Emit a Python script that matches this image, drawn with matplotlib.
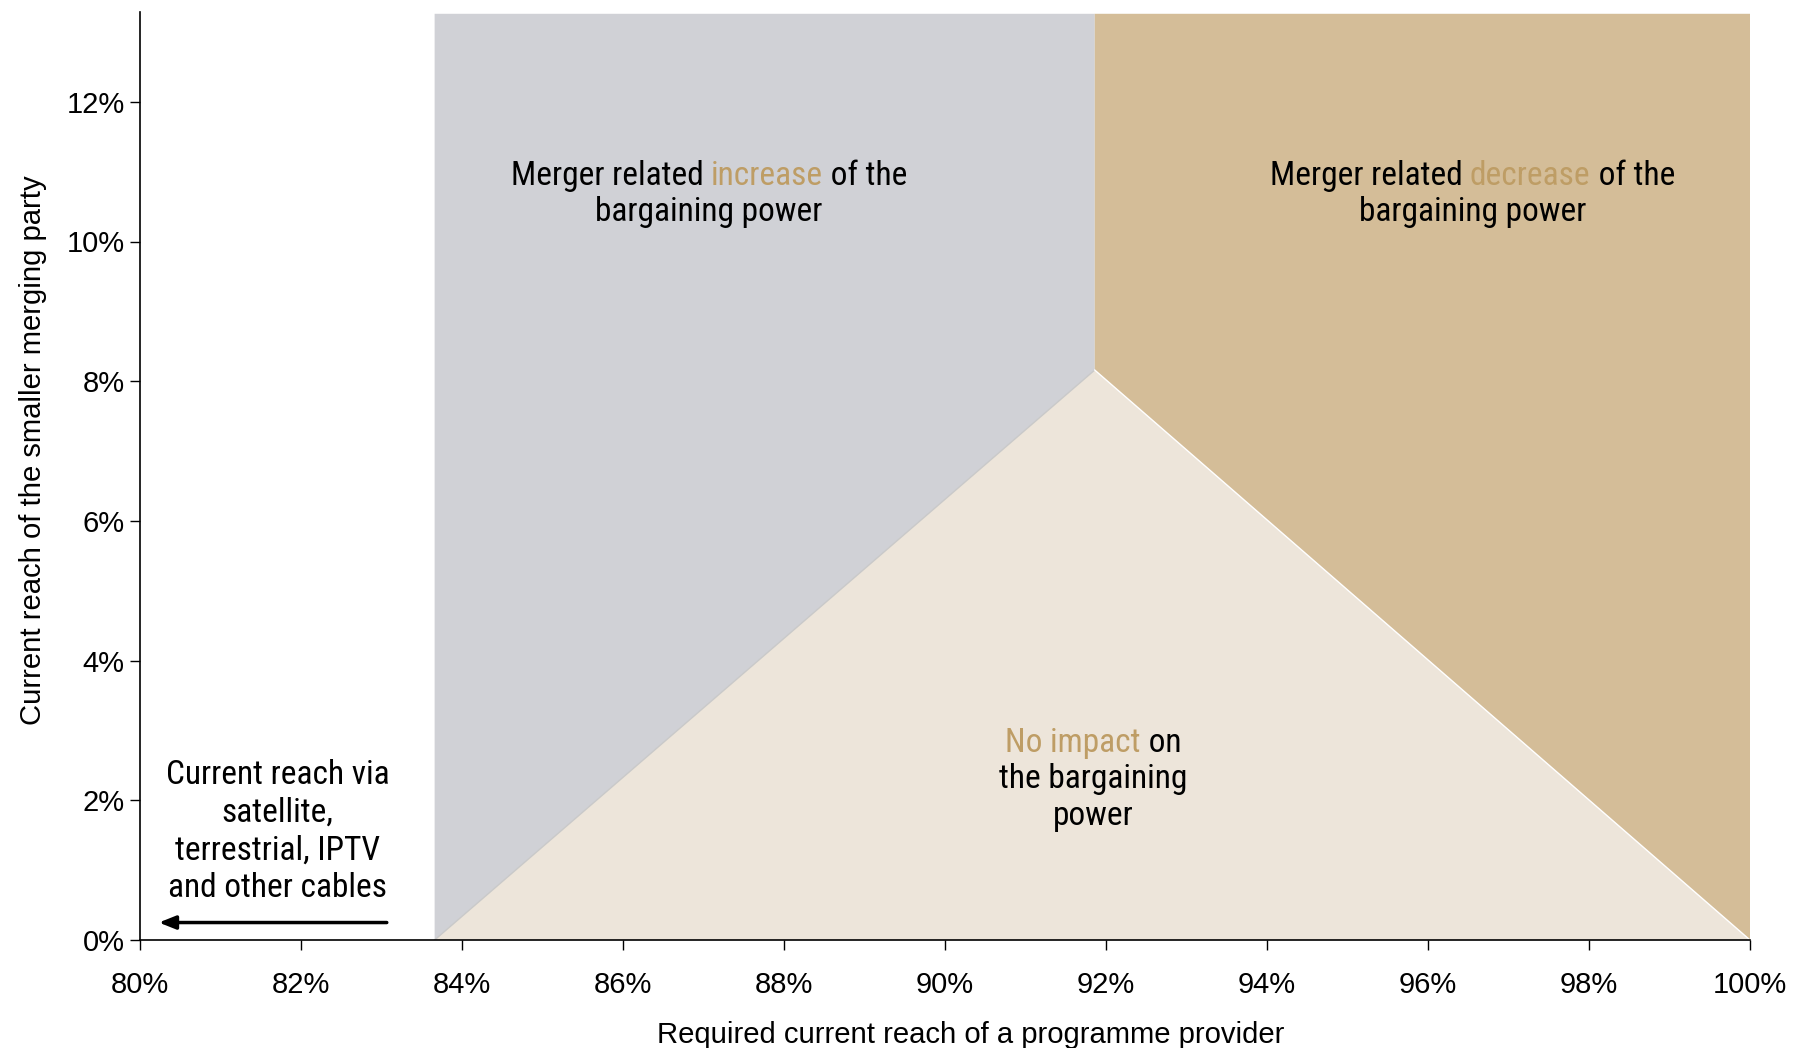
import matplotlib
matplotlib.use("Agg")
import matplotlib.pyplot as plt
from matplotlib import font_manager
from matplotlib.offsetbox import TextArea, HPacker, VPacker, AnnotationBbox
from matplotlib.ticker import FuncFormatter

# --- data (percent) ---
x_start = 83.66      # start of affected range
x_apex = 91.86       # apex of the no-impact triangle
y_apex = 8.16
x_end = 100.0
y_top = 13.26
x_ticks = [80, 82, 84, 86, 88, 90, 92, 94, 96, 98, 100]
y_ticks = [0, 2, 4, 6, 8, 10, 12]
x_label = "Required current reach of a programme provider"
y_label = "Current reach of the smaller merging party"

gray = "#D0D1D6"
tan = "#D4BD98"
beige = "#EDE5DA"
gold = "#BE9D65"

plt.rcParams['font.family'] = ['Liberation Sans', 'DejaVu Sans']

available = {f.name for f in font_manager.fontManager.ttflist}
narrow_name = None
for cand in ['Liberation Sans Narrow', 'Arial Narrow', 'Roboto Condensed', 'Open Sans Condensed',
             'Noto Sans Condensed', 'DejaVu Sans Condensed']:
    if cand in available:
        narrow_name = cand
        break
if narrow_name is None:
    narrow = ['Liberation Sans', 'DejaVu Sans']
    fs = 22
else:
    narrow = [narrow_name, 'Liberation Sans', 'DejaVu Sans']
    fs = 24

fig = plt.figure(figsize=(18.01, 10.48), dpi=100)
ax = fig.add_axes([140/1801, 1-940/1048, (1750-140)/1801, (940-12)/1048])

ax.fill([x_start, x_apex, x_apex, x_start], [0, y_apex, y_top, y_top], color=gray, lw=0)
ax.fill([x_apex, x_end, x_end, x_apex], [y_apex, 0, y_top, y_top], color=tan, lw=0)
ax.fill([x_start, x_apex, x_end], [0, y_apex, 0], color=beige, lw=0)
ax.plot([x_start, x_apex], [0, y_apex], color="#C9C9C9", lw=1)
ax.plot([x_apex, x_end], [y_apex, 0], color="white", lw=1)

ax.set_xlim(80, 100)
ax.set_ylim(0, (940-12)/69.85)
ax.set_xticks(x_ticks)
ax.set_yticks(y_ticks)
fmt = FuncFormatter(lambda v, p: f"{v:.0f}%")
ax.xaxis.set_major_formatter(fmt)
ax.yaxis.set_major_formatter(fmt)
ax.tick_params(axis='both', direction='out', length=7, width=1, labelsize=21, colors='black')
ax.tick_params(axis='x', pad=15)
ax.tick_params(axis='y', pad=4)
for s in ['top', 'right']:
    ax.spines[s].set_visible(False)
for s in ['left', 'bottom']:
    ax.spines[s].set_linewidth(1.2)
ax.set_xlabel(x_label, fontsize=21.1)
ax.xaxis.set_label_coords(0.516, -0.087)
ax.set_ylabel(y_label, fontsize=21.1)
ax.yaxis.set_label_coords(-0.058, 0.528)

def tprops(c='black'):
    return dict(color=c, fontsize=fs, family=narrow)

def multiline(lines, xy, sep=3):
    rows = []
    for parts in lines:
        rows.append(HPacker(children=[TextArea(t, textprops=tprops(c)) for t, c in parts],
                            align='baseline', pad=0, sep=0))
    box = VPacker(children=rows, align='center', pad=0, sep=sep)
    ab = AnnotationBbox(box, xy, xycoords='data', frameon=False, box_alignment=(0.5, 0.5))
    ax.add_artist(ab)

multiline([[("Merger related ", 'black'), ("increase", gold), (" of the", 'black')],
           [("bargaining power", 'black')]], (87.07, 10.68))
multiline([[("Merger related ", 'black'), ("decrease", gold), (" of the", 'black')],
           [("bargaining power", 'black')]], (96.55, 10.68))
multiline([[("No impact", gold), (" on", 'black')],
           [("the bargaining", 'black')],
           [("power", 'black')]], (91.84, 2.30))
multiline([[("Current reach via", 'black')],
           [("satellite,", 'black')],
           [("terrestrial, IPTV", 'black')],
           [("and other cables", 'black')]], (81.71, 1.55), sep=4)

ax.annotate("", xy=(80.2, 0.25), xytext=(83.1, 0.25),
            arrowprops=dict(arrowstyle='-|>,head_length=1.0,head_width=0.4', color='black', lw=2.5))

fig.savefig("out.png", dpi=100)
